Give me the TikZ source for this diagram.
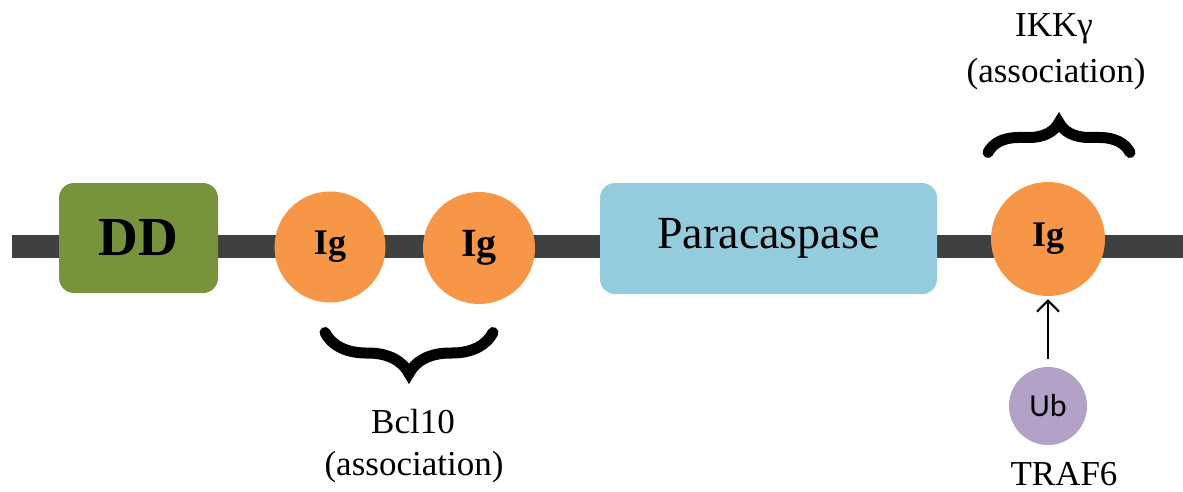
\documentclass[tikz,border=0pt]{standalone}
\usepackage{fontspec}
\setmainfont{Liberation Serif}
\newfontfamily\ubfont{Carlito}
\usetikzlibrary{decorations.pathreplacing,arrows.meta}

\definecolor{bargray}{HTML}{404040}
\definecolor{ddgreen}{HTML}{77933C}
\definecolor{igorange}{HTML}{F79646}
\definecolor{paraBlue}{HTML}{93CDDD}
\definecolor{ubpurple}{HTML}{B3A2C7}

\tikzset{
  domainbox/.style={rectangle, rounded corners=15pt, inner sep=0pt},
  igdomain/.style={circle, fill=igorange, inner sep=0pt, font=\bfseries},
  label text/.style={inner sep=0pt, anchor=base, font=\fontsize{35}{40}\selectfont},
  bracket/.style={decorate, decoration={brace, amplitude=#1}, line width=11pt, line cap=round},
}

\begin{document}
\begin{tikzpicture}[x=1pt, y=-1pt]
  \useasboundingbox (0,0) rectangle (1183,492);

  % protein backbone
  \coordinate (L) at (12,246);
  \coordinate (R) at (1183,246);
  \draw[bargray, line width=23pt] (L) -- (R);

  % domains along the backbone
  \node[domainbox, fill=ddgreen, minimum width=159pt, minimum height=110pt,
        font=\bfseries\fontsize{55}{60}\selectfont] (dd) at (138.5,238) {DD};
  \node[igdomain, minimum size=111pt, font=\bfseries\fontsize{36}{40}\selectfont] (ig1) at (330,247) {Ig};
  \node[igdomain, minimum size=112pt, font=\bfseries\fontsize{40}{44}\selectfont] (ig2) at (479,248) {Ig};
  \node[domainbox, fill=paraBlue, minimum width=337pt, minimum height=111pt,
        font=\fontsize{46}{50}\selectfont] (para) at (768.5,238.5) {Paracaspase};
  \node[igdomain, minimum size=114pt, font=\bfseries\fontsize{36}{40}\selectfont] (ig3) at (1048,239) {Ig};

  % ubiquitin attached by TRAF6
  \node[circle, fill=ubpurple, minimum size=78pt, inner sep=0pt,
        font=\ubfont\fontsize{32}{36}\selectfont] (ub) at (1048,406) {Ub};
  \draw[line width=2pt, -{Straight Barb[length=11pt, width=22pt, line width=2pt]},
        shorten <=8pt, shorten >=3pt] (ub.north) -- (ig3.south);
  \node[label text] (traf) at (1064,485) {TRAF6};

  % Bcl10 binding region
  \coordinate (bclR) at (493,332.5);
  \coordinate (bclL) at (325,332.5);
  \draw[bracket=41pt] (bclR) -- (bclL);
  \node[label text] (bcl) at (413,433) {Bcl10};
  \node[label text] (bclassoc) at (414,475) {(association)};

  % IKKgamma binding region
  \coordinate (ikkL) at (988,152.5);
  \coordinate (ikkR) at (1130,152.5);
  \draw[bracket=30pt] (ikkL) -- (ikkR);
  \node[label text] (ikk) at (1054,37) {IKKγ};
  \node[label text] (ikkassoc) at (1056,83) {(association)};
\end{tikzpicture}
\end{document}
